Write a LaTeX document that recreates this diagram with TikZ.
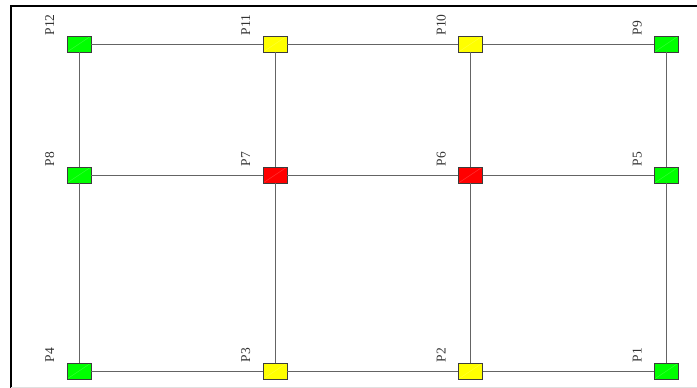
\documentclass[tikz,border=0pt]{standalone}
\usepackage{fontspec}
\setmainfont{Liberation Serif}
\definecolor{pgreen}{RGB}{0,255,0}
\definecolor{pyellow}{RGB}{255,255,0}
\definecolor{pred}{RGB}{255,0,0}
\definecolor{wire}{RGB}{100,100,100}
\definecolor{boxline}{RGB}{60,60,60}
\begin{document}
\begin{tikzpicture}[x=1pt,y=-1pt,
  pt/.style={draw=boxline, line width=0.8pt, minimum width=24pt, minimum height=16pt, inner sep=0pt,
    path picture={\draw[white, opacity=0.25, line width=0.4pt] (path picture bounding box.south west) -- (path picture bounding box.north east);}},
  ok/.style={pt, fill=pgreen},
  warn/.style={pt, fill=pyellow},
  bad/.style={pt, fill=pred},
  lab/.style={rotate=90, anchor=base west, inner sep=0pt, font=\fontsize{13.5}{14}\selectfont, text=black!80},
  wirel/.style={draw=wire, line width=1pt}]
\useasboundingbox (0,0) rectangle (697,388);
\draw[line width=1.8pt] (11,400) -- (11,6) -- (710,6);
\draw[black!12, line width=0.6pt] (11,387) -- (697,387);
% nodes
\node[ok]   (p12) at (79,44) {};
\node[warn] (p11) at (275,44) {};
\node[warn] (p10) at (470.5,44) {};
\node[ok]   (p9)  at (666.5,44) {};
\node[ok]   (p8)  at (79,175) {};
\node[bad]  (p7)  at (275,175) {};
\node[bad]  (p6)  at (470.5,175) {};
\node[ok]   (p5)  at (666.5,175) {};
\node[ok]   (p4)  at (79,371) {};
\node[warn] (p3)  at (275,371) {};
\node[warn] (p2)  at (470.5,371) {};
\node[ok]   (p1)  at (666.5,371) {};
% connectors
\foreach \a/\b in {p12/p11,p11/p10,p10/p9,p8/p7,p7/p6,p6/p5,p4/p3,p3/p2,p2/p1,
                   p12/p8,p8/p4,p11/p7,p7/p3,p10/p6,p6/p2,p9/p5,p5/p1}
  \draw[wirel] (\a) -- (\b);
% labels
\foreach \n/\t in {p12/P12,p11/P11,p10/P10,p9/P9,p8/P8,p7/P7,p6/P6,p5/P5,p4/P4,p3/P3,p2/P2,p1/P1}
  \node[lab] (l\n) at ([xshift=-25pt]\n.north) {\t};
\end{tikzpicture}
\end{document}
